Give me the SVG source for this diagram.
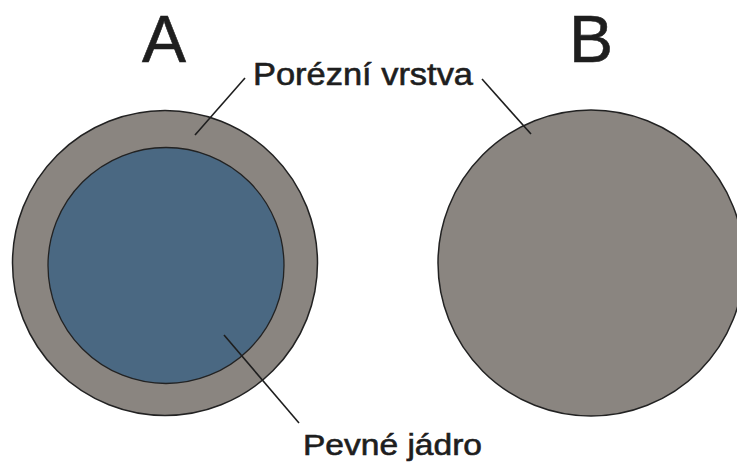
<svg xmlns="http://www.w3.org/2000/svg" width="737" height="464" viewBox="0 0 737 464">
<style>
.shell{fill:#8a8580;stroke:#222;stroke-width:1.5}
.core{fill:#4a6882;stroke:#222;stroke-width:1.3}
.lbl{font-family:"Liberation Sans",Arial,sans-serif;fill:#1e1e1e;stroke:#1e1e1e;stroke-width:0.6}
.lead{stroke:#1e1e1e;stroke-width:1.6;fill:none}
</style>
<rect width="737" height="464" fill="#fff"/>
<g id="particleA">
<circle class="shell" cx="165" cy="263" r="152.5"/>
<circle class="core" cx="166" cy="265.5" r="118"/>
</g>
<g id="particleB">
<circle class="shell" cx="591" cy="263" r="153"/>
</g>
<g id="labels">
<text class="lbl" x="142" y="62" font-size="66">A</text>
<text class="lbl" x="569" y="62" font-size="66">B</text>
<text class="lbl" x="253" y="85" font-size="30.5" textLength="220" lengthAdjust="spacingAndGlyphs">Porézní vrstva</text>
<text class="lbl" x="303" y="455" font-size="29" textLength="179" lengthAdjust="spacingAndGlyphs">Pevné jádro</text>
</g>
<g id="connectors">
<line class="lead" x1="245" y1="78" x2="195" y2="135"/>
<line class="lead" x1="482" y1="79" x2="531" y2="134"/>
<line class="lead" x1="224" y1="335" x2="299" y2="423"/>
</g>
</svg>
